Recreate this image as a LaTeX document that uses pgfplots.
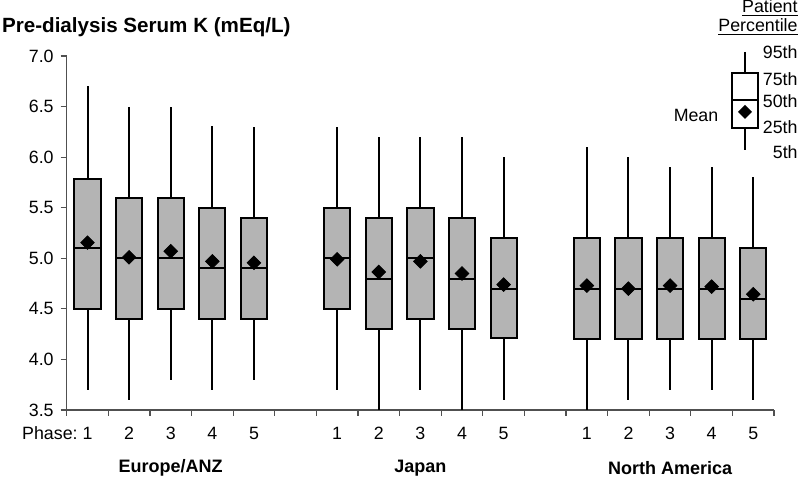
\documentclass[border=0pt]{standalone}
\usepackage{pgfplots}
\pgfplotsset{compat=1.18}
\usepgfplotslibrary{statistics}
\usepackage{fontspec}
\setmainfont{Liberation Sans}
\definecolor{boxgray}{RGB}{180,180,180}
\definecolor{axisgray}{RGB}{80,80,80}
\newcommand{\bx}[6]{\addplot[draw=black, line width=1pt, fill=boxgray,
  boxplot prepared={draw position=#1, lower whisker=#2, lower quartile=#3,
  median=#4, upper quartile=#5, upper whisker=#6, box extend=0.63, whisker extend=0,
  draw direction=y}]
  coordinates {};}
\begin{document}
\begin{tikzpicture}[font=\fontsize{8.9}{10}\selectfont]
\path[use as bounding box] (-33.35pt,-33.5pt) rectangle (366.65pt,205pt);
\begin{axis}[
  at={(0,0)}, anchor=south west,
  scale only axis, width=353.7pt, height=177pt,
  xmin=0.5, xmax=17.5, ymin=3.5, ymax=7.0,
  axis x line*=bottom, axis y line*=left,
  axis line style={axisgray, line width=0.6pt, -},
  tick style={axisgray, line width=0.6pt},
  tick align=outside, major tick length=3pt,
  ytick={3.5,4.0,4.5,5.0,5.5,6.0,6.5,7.0},
  /pgf/number format/assume math mode=true,
  yticklabel style={/pgf/number format/fixed, /pgf/number format/fixed zerofill,
    /pgf/number format/precision=1, font=\fontsize{8.9}{10}\selectfont},
  xtick={0.5,1.5,...,17.5},
  x tick label as interval,
  xticklabels={\llap{Phase:\ }1,2,3,4,5,{},1,2,3,4,5,{},1,2,3,4,5},
  xticklabel style={font=\fontsize{8.9}{10}\selectfont, yshift=-2pt},
  clip mode=individual,
]
% Europe/ANZ
\bx{1}{3.70}{4.50}{5.10}{5.78}{6.70}
\bx{2}{3.60}{4.40}{5.00}{5.60}{6.50}
\bx{3}{3.80}{4.50}{5.00}{5.60}{6.50}
\bx{4}{3.70}{4.40}{4.90}{5.50}{6.31}
\bx{5}{3.80}{4.40}{4.90}{5.40}{6.30}
% Japan
\bx{7}{3.70}{4.50}{5.00}{5.50}{6.30}
\bx{8}{3.40}{4.30}{4.80}{5.40}{6.20}
\bx{9}{3.70}{4.40}{5.00}{5.50}{6.20}
\bx{10}{3.40}{4.30}{4.80}{5.40}{6.20}
\bx{11}{3.60}{4.21}{4.70}{5.20}{6.00}
% North America
\bx{13}{3.40}{4.20}{4.70}{5.20}{6.10}
\bx{14}{3.60}{4.20}{4.70}{5.20}{6.00}
\bx{15}{3.70}{4.20}{4.70}{5.20}{5.90}
\bx{16}{3.70}{4.20}{4.70}{5.20}{5.90}
\bx{17}{3.60}{4.20}{4.60}{5.10}{5.80}
% means
\addplot[only marks, mark=square*, mark size=2.4pt,
  mark options={rotate=45, fill=black, draw=black}] coordinates {
  (1,5.155) (2,5.01) (3,5.07) (4,4.97) (5,4.955)
  (7,4.99) (8,4.865) (9,4.97) (10,4.85) (11,4.74)
  (13,4.73) (14,4.70) (15,4.73) (16,4.72) (17,4.645)};
\node[font=\bfseries\fontsize{9}{10}\selectfont] at (axis cs:3,3.5) [yshift=-29pt] {Europe/ANZ};
\node[font=\bfseries\fontsize{9}{10}\selectfont] at (axis cs:9,3.5) [yshift=-29pt] {Japan};
\node[font=\bfseries\fontsize{9}{10}\selectfont] at (axis cs:15,3.5) [yshift=-29pt] {North America};
\end{axis}
% title
\node[anchor=west, inner sep=0pt, font=\bfseries\fontsize{10.3}{12}\selectfont] at (-32.5pt,191.5pt) {Pre-dialysis Serum K (mEq/L)};
% legend
\draw[line width=0.6pt] (339.15pt,179pt) -- (339.15pt,168.5pt);
\draw[line width=0.6pt] (339.15pt,141pt) -- (339.15pt,130pt);
\draw[line width=0.6pt, fill=white] (332.65pt,141pt) rectangle (345.65pt,168.5pt);
\draw[line width=0.6pt] (332.65pt,155pt) -- (345.65pt,155pt);
\fill[black] (339.15pt,152.5pt) -- (342.65pt,149pt) -- (339.15pt,145.5pt) -- (335.65pt,149pt) -- cycle;
\node[anchor=east, inner sep=0pt] at (326pt,147.5pt) {Mean};
\node[anchor=east, inner sep=0pt] at (365.65pt,179pt) {95th};
\node[anchor=east, inner sep=0pt] at (365.65pt,165.5pt) {75th};
\node[anchor=east, inner sep=0pt] at (365.65pt,154.5pt) {50th};
\node[anchor=east, inner sep=0pt] at (365.65pt,141.5pt) {25th};
\node[anchor=east, inner sep=0pt] at (365.65pt,129pt) {5th};
\node[anchor=east, inner sep=0pt] at (365.65pt,201pt) {\underline{Patient}};
\node[anchor=east, inner sep=0pt] at (365.65pt,191.5pt) {\underline{Percentile}};
\end{tikzpicture}
\end{document}
